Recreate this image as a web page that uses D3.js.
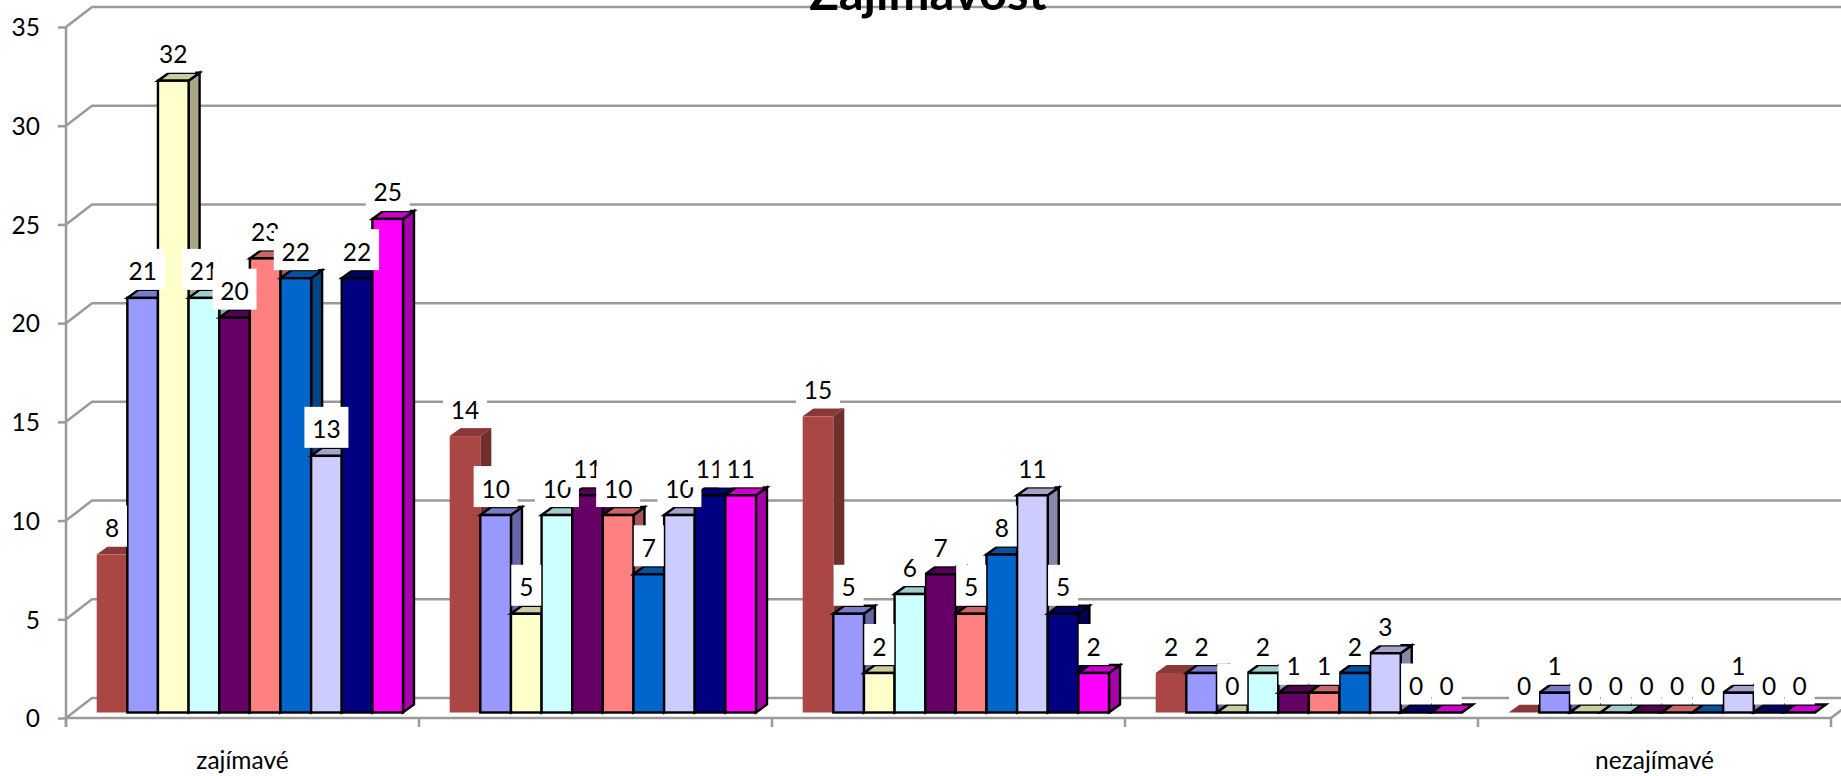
<!DOCTYPE html>
<html>
<head>
<meta charset="utf-8">
<script src="https://cdn.jsdelivr.net/npm/d3@7"></script>
<style>
html,body{margin:0;padding:0;background:#fff;overflow:hidden}
svg{display:block}
text{font-family:Lato,"Open Sans",sans-serif;fill:#000}
</style>
</head>
<body>
<div id="chart"></div>
<script>
const titleText = "Zajímavost";
const categories = ["zajímavé", "b", "c", "d", "nezajímavé"];
const categoryLabels = ["zajímavé", "", "", "", "nezajímavé"];
const seriesNames = ["s1","s2","s3","s4","s5","s6","s7","s8","s9","s10"];
const seriesColors = ["#AA4643","#9999FF","#FFFFCC","#CCFFFF","#660066","#FF8080","#0066CC","#CCCCFF","#000080","#FF00FF"];
const valuesCat1 = [8,21,32,21,20,23,22,13,22,25];
const valuesCat2 = [14,10,5,10,11,10,7,10,11,11];
const valuesCat3 = [15,5,2,6,7,5,8,11,5,2];
const valuesCat4 = [2,2,0,2,1,1,2,3,0,0];
const valuesCat5 = [0,1,0,0,0,0,0,1,0,0];
const allValues = [valuesCat1,valuesCat2,valuesCat3,valuesCat4,valuesCat5];
const yTicks = [0,5,10,15,20,25,30,35];

const W = 1841, H = 776;
const svg = d3.select("#chart").append("svg").attr("width",W).attr("height",H);

const y = d3.scaleLinear().domain([0,35]).range([718,27]);
const x0 = d3.scaleBand().domain(categories).range([66,1831]);
const x1 = d3.scaleBand().domain(seriesNames).range([30.7,337]);

const gridColor = "#9a9a9a";
const gridWidth = 2.5;
const labelSize = "24.5px";
const wallDx = 26, wallDy = -20;   // back wall offset
const barDepthDx = 11, barDepthDy = -8;  // depth of one bar
const baseShift = -5.5;            // bars stand slightly inside the floor

// back wall gridlines and left-side diagonals
const grid = svg.append("g").attr("stroke",gridColor).attr("stroke-width",gridWidth).attr("fill","none");
yTicks.forEach(t=>{
  grid.append("path").attr("d",`M66,${y(t)}L${66+wallDx},${y(t)+wallDy}L${W+5},${y(t)+wallDy}`);
});
// floor front edge and its right end
grid.append("path").attr("d",`M66,${y(0)}L1831,${y(0)}L${1831+wallDx},${y(0)+wallDy}`);

// y axis
const yAxis = d3.axisLeft(y).tickValues(yTicks).tickSize(8).tickPadding(18).tickFormat(d3.format("d"));
const gy = svg.append("g").attr("transform","translate(66,0)").call(yAxis);
gy.selectAll("line").attr("stroke",gridColor).attr("stroke-width",gridWidth);
gy.select(".domain").attr("stroke",gridColor).attr("stroke-width",gridWidth).attr("d",`M0,${y(35)}V${y(0)+9}`);
gy.selectAll("text").style("font-size",labelSize).attr("fill","#000").attr("dy","0.36em");

// x axis ticks
const xTickPos = categories.map(c=>x0(c)).concat([x0.range()[1]]);
svg.append("g").selectAll("line").data(xTickPos).join("line")
  .attr("x1",d=>d).attr("x2",d=>d).attr("y1",y(0)).attr("y2",y(0)+9)
  .attr("stroke",gridColor).attr("stroke-width",gridWidth);

// bars
const barsG = svg.append("g");
const labels = [];
const base = y(0)+baseShift;
categories.forEach((c,ci)=>{
  seriesNames.forEach((s,si)=>{
    const v = allValues[ci][si];
    const bx = x0(c)+x1(s), bw = x1.bandwidth();
    const top = y(v)+baseShift;
    const col = d3.color(seriesColors[si]);
    const stroke = si===0 ? "none" : "#000";
    const shade = (f)=>{const k=d3.rgb(col);return d3.rgb(k.r*f,k.g*f,k.b*f).formatHex();};
    const g = barsG.append("g").attr("stroke",stroke).attr("stroke-width",2.4).attr("stroke-linejoin","miter");
    if(v>0){
      g.append("path").attr("fill",shade(0.66))
       .attr("d",`M${bx+bw},${top}L${bx+bw+barDepthDx},${top+barDepthDy}V${base+barDepthDy}L${bx+bw},${base}Z`);
    }
    g.append("path").attr("fill",shade(0.8))
     .attr("d",`M${bx},${top}L${bx+barDepthDx},${top+barDepthDy}H${bx+bw+barDepthDx}L${bx+bw},${top}Z`);
    if(v>0){
      g.append("rect").attr("x",bx).attr("y",top).attr("width",bw).attr("height",base-top).attr("fill",seriesColors[si]);
    }
    labels.push({v,cx:bx+bw/2,top});
  });
});

// value labels with white boxes, later ones over earlier ones
const labG = svg.append("g");
labels.forEach(d=>{
  const txt = String(d.v);
  const w = txt.length>1 ? 44 : 30;
  labG.append("rect").attr("x",d.cx-w/2).attr("y",d.top-49).attr("width",w).attr("height",41).attr("fill","#fff");
  labG.append("text").attr("x",d.cx).attr("y",d.top-27).attr("text-anchor","middle")
    .attr("dominant-baseline","central").style("font-size",labelSize).text(txt);
});

// category labels
svg.append("g").selectAll("text").data(categories).join("text")
  .attr("x",c=>x0(c)+x0.bandwidth()/2).attr("y",759).attr("text-anchor","middle")
  .attr("dominant-baseline","central").style("font-size",labelSize)
  .text((c,i)=>categoryLabels[i]);

// title, clipped by the top of the picture
svg.append("text").attr("x",928).attr("y",10).attr("text-anchor","middle")
  .style("font-size","49px").style("font-weight","700").text(titleText);
</script>
</body>
</html>
